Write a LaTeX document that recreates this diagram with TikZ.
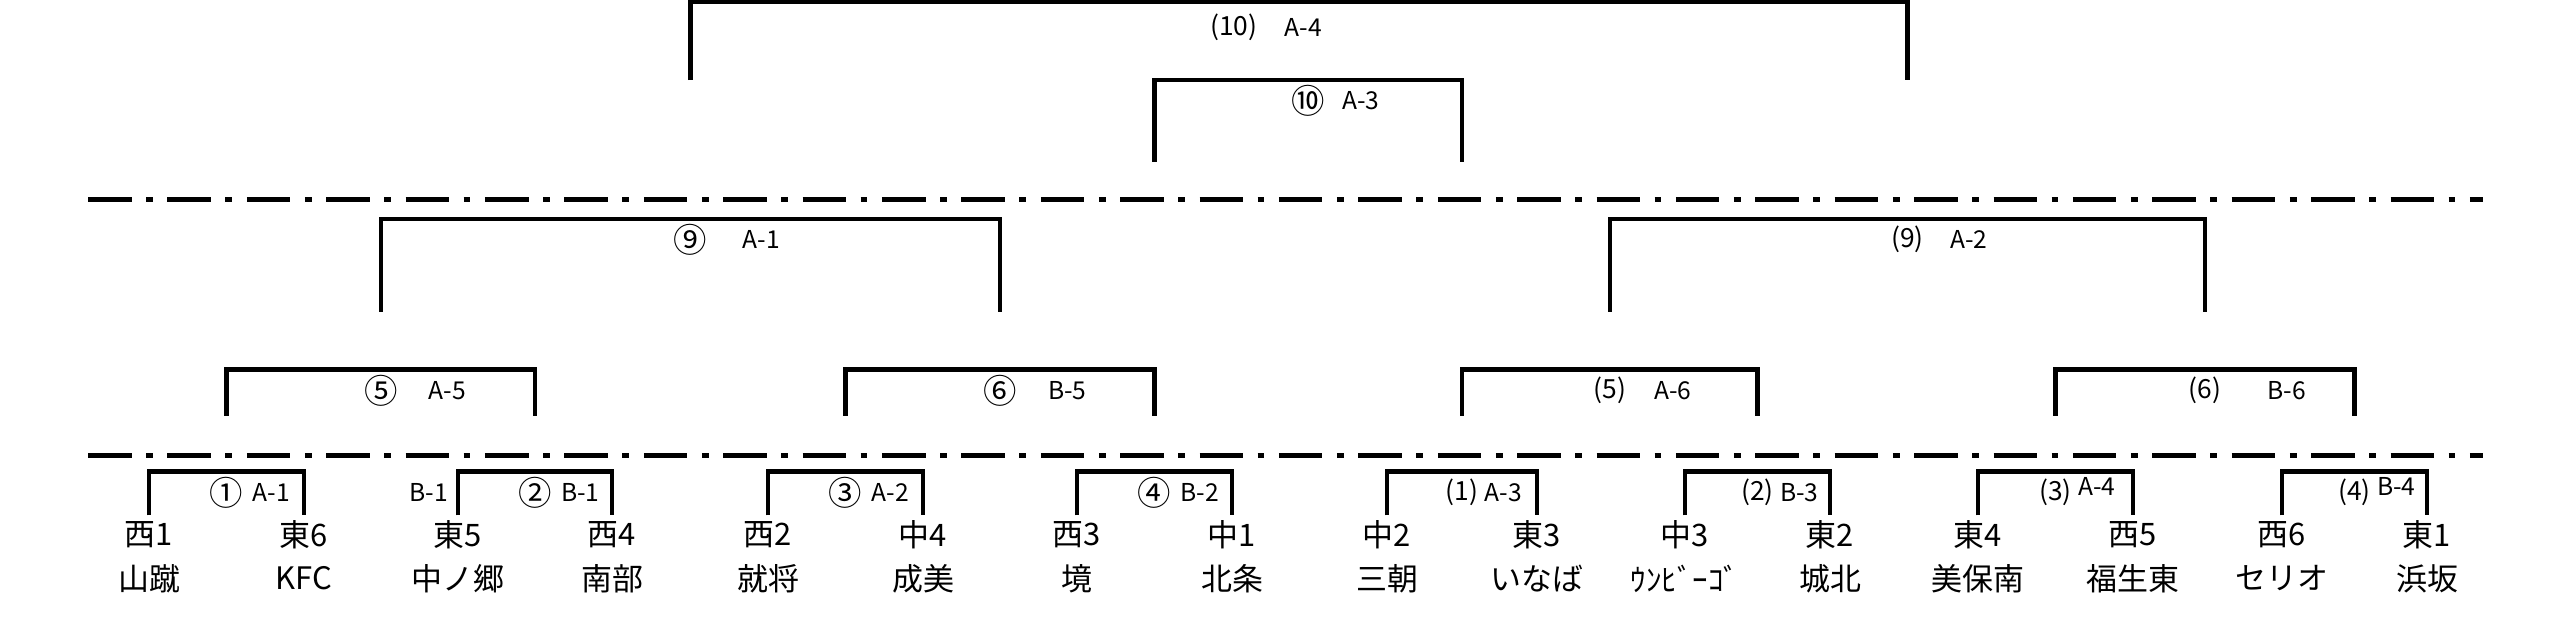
\documentclass[tikz,border=0pt]{standalone}
\usepackage{fontspec}
\setmainfont{Noto Sans CJK JP}
\usetikzlibrary{positioning}

\begin{document}
\begin{tikzpicture}[x=0.01cm, y=-0.01cm, line cap=butt, node distance=0.21cm, inner sep=0pt]
   \tikzstyle{bracket}=[line width=0.043cm]
   \tikzstyle{divider}=[line width=0.05cm, dash pattern=on 0.435cm off 0.145cm on 0.0685cm off 0.145cm]
   \tikzstyle{seed}=[font=\fontsize{8.8}{10}\selectfont, minimum height=0.38cm]
   \tikzstyle{school}=[seed]
   \tikzstyle{num}=[font=\fontsize{9.5}{10}\selectfont]
   \tikzstyle{paren}=[font=\fontsize{7.5}{9}\selectfont]
   \tikzstyle{code}=[font=\fontsize{7}{8}\selectfont]

   \useasboundingbox (0,0) rectangle (2552,618);

   % round dividers
   \coordinate (upper_l) at (88,199);
   \coordinate (upper_r) at (2483,199);
   \coordinate (lower_l) at (88,455);
   \coordinate (lower_r) at (2483,455);
   \draw[divider] (upper_l) -- (upper_r);
   \draw[divider] (lower_l) -- (lower_r);

   % seeds
   \node[seed] (seed_1) at (149,535) {西1};
   \node[seed] (seed_2) at (304,535) {東6};
   \node[seed] (seed_3) at (458,535) {東5};
   \node[seed] (seed_4) at (612,535) {西4};
   \node[seed] (seed_5) at (768,535) {西2};
   \node[seed] (seed_6) at (923,535) {中4};
   \node[seed] (seed_7) at (1077,535) {西3};
   \node[seed] (seed_8) at (1232,535) {中1};
   \node[seed] (seed_9) at (1387,535) {中2};
   \node[seed] (seed_10) at (1537,535) {東3};
   \node[seed] (seed_11) at (1685,535) {中3};
   \node[seed] (seed_12) at (1830,535) {東2};
   \node[seed] (seed_13) at (1978,535) {東4};
   \node[seed] (seed_14) at (2133,535) {西5};
   \node[seed] (seed_15) at (2282,535) {西6};
   \node[seed] (seed_16) at (2427,535) {東1};

   \node[school] (school_1) [below=0.04cm of seed_1] {山蹴};
   \node[school] (school_2) [below=0.04cm of seed_2] {KFC};
   \node[school] (school_3) [below=0.04cm of seed_3] {中ノ郷};
   \node[school] (school_4) [below=0.04cm of seed_4] {南部};
   \node[school] (school_5) [below=0.04cm of seed_5] {就将};
   \node[school] (school_6) [below=0.04cm of seed_6] {成美};
   \node[school] (school_7) [below=0.04cm of seed_7] {境};
   \node[school] (school_8) [below=0.04cm of seed_8] {北条};
   \node[school] (school_9) [below=0.04cm of seed_9] {三朝};
   \node[school] (school_10) [below=0.04cm of seed_10] {いなば};
   \node[school] (school_11) [below=0.04cm of seed_11] {ｳﾝﾋﾞｰｺﾞ};
   \node[school] (school_12) [below=0.04cm of seed_12] {城北};
   \node[school] (school_13) [below=0.04cm of seed_13] {美保南};
   \node[school] (school_14) [below=0.04cm of seed_14] {福生東};
   \node[school] (school_15) [below=0.04cm of seed_15] {セリオ};
   \node[school] (school_16) [below=0.04cm of seed_16] {浜坂};

   % first round
   \coordinate (match_1) at (226.5,471.5);
   \coordinate (match_2) at (535,471.5);
   \coordinate (match_3) at (845.5,471.5);
   \coordinate (match_4) at (1154.5,471.5);
   \coordinate (match_5) at (1462,471.5);
   \coordinate (match_6) at (1757.5,471.5);
   \coordinate (match_7) at (2055.5,471.5);
   \coordinate (match_8) at (2354.5,471.5);

   \draw[bracket] (seed_1.north) |- (match_1) -| (seed_2.north);
   \draw[bracket] (seed_3.north) |- (match_2) -| (seed_4.north);
   \draw[bracket] (seed_5.north) |- (match_3) -| (seed_6.north);
   \draw[bracket] (seed_7.north) |- (match_4) -| (seed_8.north);
   \draw[bracket] (seed_9.north) |- (match_5) -| (seed_10.north);
   \draw[bracket] (seed_11.north) |- (match_6) -| (seed_12.north);
   \draw[bracket] (seed_13.north) |- (match_7) -| (seed_14.north);
   \draw[bracket] (seed_15.north) |- (match_8) -| (seed_16.north);

   \node[num] (no_1) [below of=match_1] {①};
   \node[num] (no_2) [below of=match_2] {②};
   \node[num] (no_3) [below of=match_3] {③};
   \node[num] (no_4) [below of=match_4] {④};
   \node[paren] (no_5) [below of=match_5] {(1)};
   \node[paren] (no_6) [below of=match_6] {(2)};
   \node[paren] (no_7) [below of=match_7] {(3)};
   \node[paren] (no_8) [below of=match_8] {(4)};

   \node[code] (court_1) [right=0.08cm of no_1] {A-1};
   \node[code] (court_2) [right=0.08cm of no_2] {B-1};
   \node[code] (court_2b) at (429,492) {B-1};
   \node[code] (court_3) [right=0.08cm of no_3] {A-2};
   \node[code] (court_4) [right=0.08cm of no_4] {B-2};
   \node[code] (court_5) [right=0.05cm of no_5] {A-3};
   \node[code] (court_6) [right=0.05cm of no_6] {B-3};
   \node[code] (court_7) [right=0.05cm of no_7, yshift=0.06cm] {A-4};
   \node[code] (court_8) [right=0.05cm of no_8, yshift=0.06cm] {B-4};

   % second round
   \coordinate (foot_2) at (0,415.6);
   \coordinate (semi_1) at (380.75,369.5);
   \coordinate (semi_2) at (1000,369.5);
   \coordinate (semi_3) at (1609.75,369.5);
   \coordinate (semi_4) at (2205,369.5);

   \draw[bracket] (match_1 |- foot_2) |- (semi_1) -| (match_2 |- foot_2);
   \draw[bracket] (match_3 |- foot_2) |- (semi_2) -| (match_4 |- foot_2);
   \draw[bracket] (match_5 |- foot_2) |- (semi_3) -| (match_6 |- foot_2);
   \draw[bracket] (match_7 |- foot_2) |- (semi_4) -| (match_8 |- foot_2);

   \node[num] (no_9) [below of=semi_1] {⑤};
   \node[num] (no_10) [below of=semi_2] {⑥};
   \node[paren] (no_11) [below of=semi_3] {(5)};
   \node[paren] (no_12) [below of=semi_4] {(6)};
   \node[code] (court_9) [right=0.30cm of no_9] {A-5};
   \node[code] (court_10) [right=0.30cm of no_10] {B-5};
   \node[code] (court_11) [right=0.27cm of no_11] {A-6};
   \node[code] (court_12) [right=0.45cm of no_12] {B-6};

   % semifinals
   \coordinate (foot_3) at (0,311.7);
   \coordinate (half_1) at (690.4,218.7);
   \coordinate (half_2) at (1907.4,218.7);

   \draw[bracket] (semi_1 |- foot_3) |- (half_1) -| (semi_2 |- foot_3);
   \draw[bracket] (semi_3 |- foot_3) |- (half_2) -| (semi_4 |- foot_3);

   \node[num] (no_13) [below of=half_1] {⑨};
   \node[paren] (no_14) [below of=half_2] {(9)};
   \node[code] (court_13) [right=0.34cm of no_13] {A-1};
   \node[code] (court_14) [right=0.25cm of no_14] {A-2};

   % third place and final
   \coordinate (foot_4) at (0,161.7);
   \coordinate (third) at (1308,80);
   \coordinate (foot_5) at (0,80);
   \coordinate (final) at (1299,2);

   \draw[bracket] (match_4 |- foot_4) |- (third) -| (match_5 |- foot_4);
   \draw[bracket] (half_1 |- foot_5) |- (final) -| (half_2 |- foot_5);

   \node[num] (no_15) [below of=third] {⑩};
   \node[code] (court_15) [right=0.16cm of no_15] {A-3};
   \node[paren] (no_16) [below of=final, xshift=-0.65cm, yshift=-0.04cm] {(10)};
   \node[code] (court_16) [right=0.26cm of no_16] {A-4};
\end{tikzpicture}
\end{document}
